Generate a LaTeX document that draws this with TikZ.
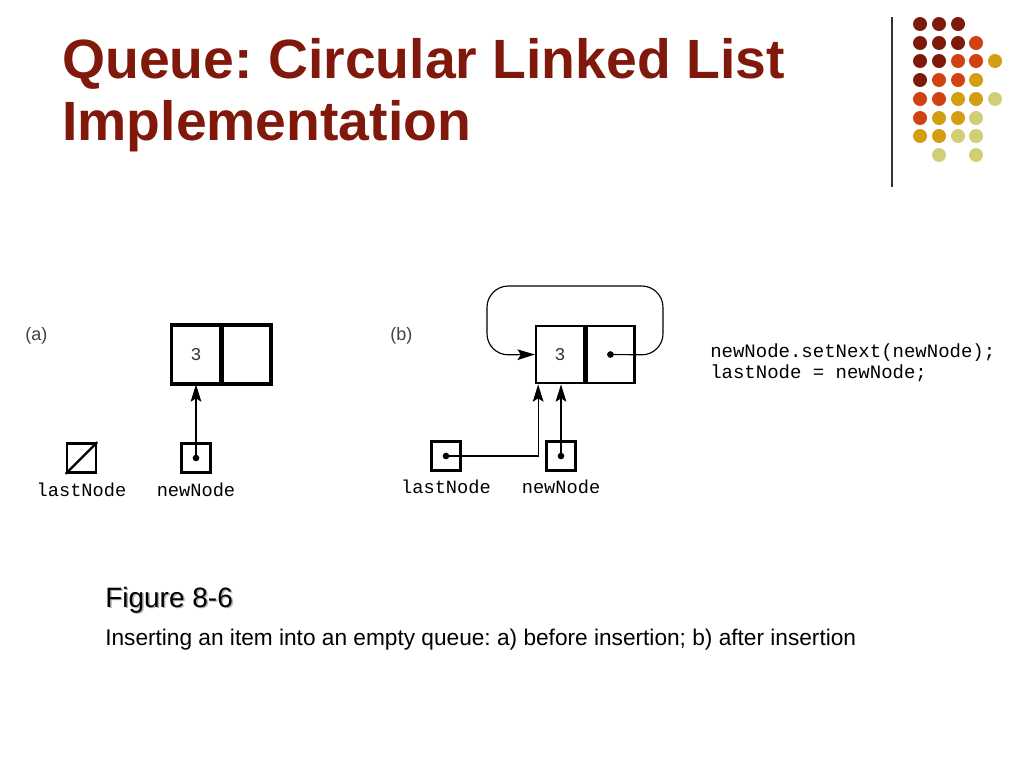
\documentclass[tikz,border=0pt]{standalone}
\usepackage{fontspec}
\setmainfont{Liberation Sans}
\newfontfamily\mono{Liberation Mono}
\usetikzlibrary{arrows.meta}
\frenchspacing
\definecolor{titlered}{RGB}{128,24,12}
\definecolor{dred}{RGB}{125,26,12}
\definecolor{ored}{RGB}{208,66,18}
\definecolor{gold}{RGB}{212,158,18}
\definecolor{pale}{RGB}{210,206,118}
\definecolor{shadowgray}{RGB}{175,175,175}
\tikzset{
  cell/.style={draw, line width=1.8pt, minimum width=36pt, minimum height=43pt, inner sep=0pt, font=\mono\fontsize{13.5pt}{15pt}\selectfont, text=black!80},
  ref/.style={draw, line width=1.8pt, minimum width=22pt, minimum height=22pt, inner sep=0pt},
  pdot/.style={circle, fill, inner sep=0pt, minimum size=5pt},
  lbl/.style={font=\mono\fontsize{14pt}{16pt}\selectfont, inner sep=0pt},
  ptr/.style={line width=0.85pt, -{Stealth[length=13pt,width=8pt,inset=2.5pt]}},
  part/.style={font=\fontsize{13.5pt}{16pt}\selectfont, text=black!75, inner sep=0pt, anchor=base west},
  dotc/.style={circle, inner sep=0pt, minimum size=10.5pt},
  codeline/.style={anchor=base west, inner sep=0pt, font=\mono\fontsize{14.25pt}{15.75pt}\selectfont},
}
\begin{document}
\begin{tikzpicture}[x=0.75pt,y=-0.75pt]
\useasboundingbox (0,0) rectangle (1024,768);
% title
\node[anchor=base west, inner sep=0pt, text=titlered, font=\bfseries\fontsize{41.5pt}{46pt}\selectfont] (t1) at (62,78) {Queue: Circular Linked List};
\node[anchor=base west, inner sep=0pt, text=titlered, font=\bfseries\fontsize{41.5pt}{46pt}\selectfont] (t2) at (62,140) {Implementation};
% decoration
\draw[line width=1pt, black!80] (892,17) -- (892,187);
\foreach \x/\y/\c in {920/24/dred,939/24/dred,958/24/dred,
  920/43/dred,939/43/dred,958/43/dred,976/43/ored,
  920/61/dred,939/61/dred,958/61/ored,976/61/ored,995/61/gold,
  920/80/dred,939/80/ored,958/80/ored,976/80/gold,
  920/99/ored,939/99/ored,958/99/gold,976/99/gold,995/99/pale,
  920/118/ored,939/118/gold,958/118/gold,976/118/pale,
  920/136/gold,939/136/gold,958/136/pale,976/136/pale,
  939/155/pale,976/155/pale}
  \node[dotc, fill=\c] at (\x,\y) {};
% (a)
\node[part] (pa) at (25,340) {(a)};
\node[cell] (a3) at (196,354.5) {3};
\node[cell, anchor=west] (aR) at (a3.east) {};
\draw[line width=1.8pt] (a3.north west) rectangle (aR.south east);
\node[ref] (alast) at (81.5,458) {};
\draw[line width=1.8pt] (alast.south west) -- (alast.north east);
\node[ref] (anew) at (196,458) {};
\node[pdot] (anewd) at (anew.center) {};
\draw[ptr] (anewd.center) -- (a3.south);
\node[lbl] (alastl) at (81.5,490) {lastNode};
\node[lbl] (anewl) at (196,490) {newNode};
% (b)
\node[part] (pb) at (390,340) {(b)};
\node[cell] (b3) at (560,354.5) {3};
\node[cell, anchor=west] (bR) at (b3.east) {};
\node[pdot] (bRd) at (bR.center) {};
\coordinate (lp1) at (663,355);
\coordinate (lp2) at (663,286);
\coordinate (lp3) at (487,286);
\coordinate (lp4) at (487,355);
\draw[ptr, rounded corners=16pt] (bRd.center) -- (lp1) -- (lp2) -- (lp3) -- (lp4) -- (b3.west);
\node[ref] (blast) at (446,456) {};
\node[pdot] (blastd) at (blast.center) {};
\node[ref] (bnew) at (561,456) {};
\node[pdot] (bnewd) at (bnew.center) {};
\coordinate (bin) at ([xshift=2.5pt]b3.south west);
\draw[ptr] (blastd.center) -| (bin);
\draw[ptr] (bnewd.center) -- (bnewd.center |- b3.south);
\node[lbl] (blastl) at (446,487) {lastNode};
\node[lbl] (bnewl) at (561,487) {newNode};
% code
\node[codeline] (code1) at (710,357) {newNode.setNext(newNode);};
\node[codeline] (code2) at (710,378) {lastNode = newNode;};
% caption
\node[anchor=base west, inner sep=0pt, text=shadowgray, font=\fontsize{21pt}{24pt}\selectfont] at (106.5,608.5) {Figure 8-6};
\node[anchor=base west, inner sep=0pt, font=\fontsize{21pt}{24pt}\selectfont] (fig) at (105,607) {Figure 8-6};
\node[anchor=base west, inner sep=0pt, font=\fontsize{17pt}{20pt}\selectfont] (cap) at (105,645) {Inserting an item into an empty queue: a) before insertion; b) after insertion};
\end{tikzpicture}
\end{document}
